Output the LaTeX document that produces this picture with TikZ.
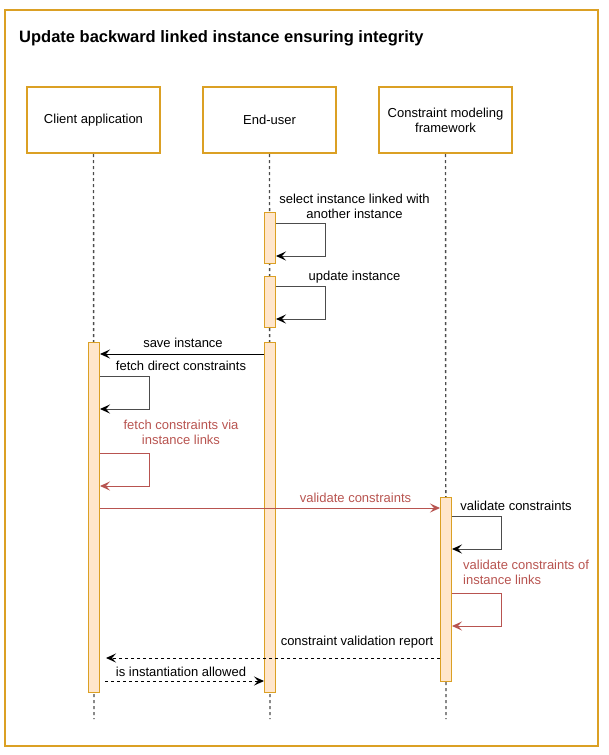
\documentclass[tikz,border=0pt]{standalone}
\usepackage{fontspec}
\setmainfont{Liberation Sans}
\usetikzlibrary{arrows.meta,calc}
\definecolor{frameor}{HTML}{DBA024}
\definecolor{barfill}{HTML}{FFE6CC}
\definecolor{redmsg}{HTML}{B85450}
\begin{document}
\begin{tikzpicture}[x=1pt,y=-1pt,
  font=\fontsize{13}{15}\selectfont,
  actor/.style={draw=frameor, line width=2pt, fill=white, minimum width=133pt,
    minimum height=66pt, align=center, inner sep=2pt},
  bar/.style={draw=frameor, fill=barfill, line width=1pt, minimum width=11pt,
    inner sep=0pt, anchor=north},
  lifeline/.style={draw=black!70, line width=1.4pt, dash pattern=on 3pt off 3pt},
  msg/.style={line width=1pt, -{Stealth[length=10pt,width=9pt,inset=4pt]}},
  loopmsg/.style={msg, draw=black!70, -{Stealth[length=10pt,width=9pt,inset=4pt,fill=black,color=black]}},
  redmsgline/.style={msg, draw=redmsg, color=redmsg},
  reply/.style={msg, dash pattern=on 3pt off 3pt},
  lbl/.style={align=center, inner sep=1pt},
  redlbl/.style={lbl, text=redmsg}
]
\useasboundingbox (0,0) rectangle (609,755);

% outer frame and title
\draw[frameor, line width=2pt] (5,10) rectangle (598,746);
\node[anchor=west, inner sep=1pt, font=\bfseries\fontsize{16.5}{19}\selectfont] (title) at (18,38)
  {Update backward linked instance ensuring integrity};

% participants
\node[actor] (ca) at (93.5,120) {Client application};
\node[actor] (eu) at (269.5,120) {End-user};
\node[actor] (cm) at (445.5,120) {Constraint modeling\\framework};

% lifelines
\coordinate (caend) at (94,719);
\coordinate (euend) at (270,719);
\coordinate (cmend) at (446,719);
\draw[lifeline] (ca.south) -- (caend);
\draw[lifeline] (eu.south) -- (euend);
\draw[lifeline] (cm.south) -- (cmend);

% activation bars
\node[bar, minimum height=51pt] (ub1) at (270,212) {};
\node[bar, minimum height=51pt] (ub2) at (270,276) {};
\node[bar, minimum height=350pt] (ub3) at (270,342) {};
\node[bar, minimum height=350pt] (cb) at (94,342) {};
\node[bar, minimum height=184pt] (fb) at (446,497) {};

% end-user self messages
\draw[loopmsg] ($(ub1.north east)+(0,11)$) -- ++(49,0) -- ++(0,33) -- ++(-49,0);
\node[lbl] (lsel) at (354.5,206) {select instance linked with\\another instance};
\draw[loopmsg] ($(ub2.north east)+(0,10)$) -- ++(49,0) -- ++(0,33) -- ++(-49,0);
\node[lbl] (lupd) at (354.5,277) {update instance};

% save instance
\draw[msg] ($(ub3.north west)+(0,12)$) -- ($(cb.north east)+(0,12)$);
\node[lbl] (lsave) at (183,343) {save instance};

% client self messages
\draw[loopmsg] ($(cb.north east)+(0,34)$) -- ++(49,0) -- ++(0,33) -- ++(-49,0);
\node[lbl] (lfetch) at (181,366) {fetch direct constraints};
\draw[redmsgline] ($(cb.north east)+(0,111)$) -- ++(49,0) -- ++(0,33) -- ++(-49,0);
\node[redlbl] (lvia) at (181,432.5) {fetch constraints via\\instance links};

% validate constraints
\draw[redmsgline] ($(cb.north east)+(0,166)$) -- ($(fb.north west)+(0,11)$);
\node[redlbl] (lval) at (355.5,498) {validate constraints};

% framework self messages
\draw[loopmsg] ($(fb.north east)+(0,19)$) -- ++(49,0) -- ++(0,33) -- ++(-49,0);
\node[lbl] (lvself) at (516,506) {validate constraints};
\draw[redmsgline] ($(fb.north east)+(0,96)$) -- ++(49,0) -- ++(0,33) -- ++(-49,0);
\node[redlbl, anchor=west, align=left] (lvlinks) at (462,572) {validate constraints of\\instance links};

% replies
\draw[reply] ($(fb.north west)+(0,161)$) -- ($(cb.north east)+(6,316)$);
\node[lbl] (lrep) at (357,642) {constraint validation report};
\draw[reply] ($(cb.north east)+(5,339)$) -- ($(ub3.north west)+(0,339)$);
\node[lbl] (lallow) at (181,672) {is instantiation allowed};
\end{tikzpicture}
\end{document}
